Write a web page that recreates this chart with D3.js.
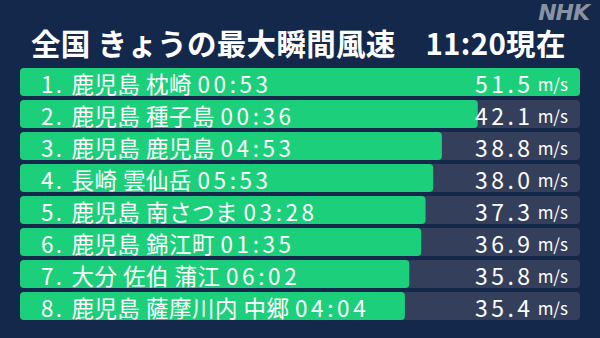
<!DOCTYPE html>
<html><head><meta charset="utf-8">
<script src="https://cdn.jsdelivr.net/npm/d3@7"></script>
<style>html,body{margin:0;padding:0;background:#13284b;}svg{display:block;}</style>
</head><body>
<svg id="c" width="600" height="338"></svg>
<script>
const title = "全国 きょうの最大瞬間風速　11:20現在";
const places = ["鹿児島 枕崎","鹿児島 種子島","鹿児島 鹿児島","長崎 雲仙岳","鹿児島 南さつま","鹿児島 錦江町","大分 佐伯 蒲江","鹿児島 薩摩川内 中郷"];
const times = ["00:53","00:36","04:53","05:53","03:28","01:35","06:02","04:04"];
const values = [51.5,42.1,38.8,38.0,37.3,36.9,35.8,35.4];
const unit = "m/s";

const svg = d3.select("#c");
const W = 600, H = 338;
svg.append("rect").attr("width",W).attr("height",H).attr("fill","#13284b");

const font = "'Noto Sans CJK JP','Noto Sans',sans-serif";

svg.append("text").attr("x",31).attr("y",42).attr("dominant-baseline","central")
  .attr("fill","#fff").attr("font-family",font).attr("font-weight",700)
  .attr("font-size",29.5).attr("letter-spacing",0.3).text(title);

svg.append("text").attr("x",589).attr("y",12).attr("dominant-baseline","central")
  .attr("text-anchor","end").attr("fill","#9aa2b1").attr("fill-opacity",0.9).attr("font-family","'DejaVu Sans',sans-serif")
  .attr("font-weight",700).attr("font-style","italic").attr("font-size",22)
  .attr("letter-spacing",-1).text("NHK");

const y = d3.scaleBand().domain(d3.range(values.length)).range([66,322]).paddingInner(0.125).paddingOuter(0.06);
const x = d3.scaleLinear().domain([0, d3.max(values)]).range([20,580]);

const g = svg.append("g");
const rows = g.selectAll("g.row").data(values).join("g").attr("class","row");
rows.append("rect").attr("x",x(0)).attr("y",(d,i)=>y(i)).attr("width",x(d3.max(values))-x(0))
  .attr("height",y.bandwidth()).attr("rx",4).attr("fill","#343f5c");
rows.append("rect").attr("x",x(0)).attr("y",(d,i)=>y(i)).attr("width",d=>x(d)-x(0))
  .attr("height",y.bandwidth()).attr("rx",4).attr("fill","#1ccf7a");

const lab = rows.append("text").attr("x",41).attr("y",(d,i)=>y(i)+y.bandwidth()/2+1)
  .attr("dominant-baseline","central").attr("fill","#fff").attr("font-family",font)
  .attr("font-size",22.5);
lab.append("tspan").attr("letter-spacing",2.2).text((d,i)=>(i+1)+". ");
lab.append("tspan").attr("letter-spacing",0.5).text((d,i)=>places[i]+" ");
lab.append("tspan").attr("letter-spacing",3.6).text((d,i)=>times[i]);

const val = rows.append("text").attr("x",568).attr("y",(d,i)=>y(i)+y.bandwidth()/2+1)
  .attr("dominant-baseline","central").attr("text-anchor","end").attr("fill","#fff").attr("font-family",font);
val.append("tspan").attr("font-size",23).attr("letter-spacing",3.5).text(d=>d.toFixed(1));
val.append("tspan").attr("font-size",17).attr("dx",4).text(unit);
</script>
</body></html>
